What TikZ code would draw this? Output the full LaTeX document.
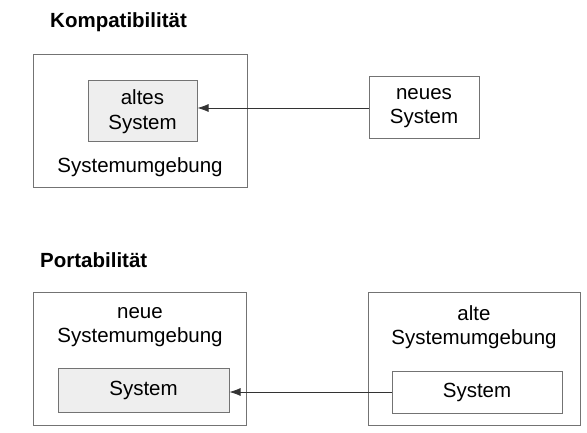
\documentclass[tikz,border=0pt]{standalone}
\usepackage{fontspec}
\setmainfont{Liberation Sans}
\usetikzlibrary{arrows.meta,positioning}
\definecolor{linegray}{gray}{0.45}
\definecolor{boxgray}{gray}{0.935}

\tikzset{
    box/.style={draw=linegray, line width=1pt, inner sep=0pt},
    sysbox/.style={box, fill=boxgray},
    label/.style={font=\fontsize{20.5}{24.5}\selectfont, align=center, inner sep=0pt},
    head/.style={font=\fontsize{20.5}{24.5}\selectfont\bfseries, anchor=west, inner sep=0pt},
    link/.style={draw=black!80, line width=0.8pt, -{Latex[length=11pt,width=8pt]}}
}

\begin{document}
\begin{tikzpicture}[x=1pt, y=-1pt]
        \useasboundingbox (0,0) rectangle (587,433);

        % Kompatibilitaet
        \node[head] (khead) at (50, 22) {Kompatibilität};
        \node[box, minimum width=214pt, minimum height=133pt] (kenv) at (140, 121.5) {};
        \node[sysbox, minimum width=109pt, minimum height=61pt] (kalt) at (142.5, 111.5) {};
        \node[label] (kalttext) at (kalt.center) {altes\\System};
        \node[label] (kenvtext) at (140, 167) {Systemumgebung};
        \node[box, fill=white, minimum width=110pt, minimum height=62pt] (kneu) at (424, 108) {};
        \node[label] (kneutext) at (kneu.center) {neues\\System};
        \draw[link] (kneu.west) -- (kneu.west -| kalt.east);

        % Portabilitaet
        \node[head] (phead) at (40, 260) {Portabilität};
        \node[box, minimum width=213pt, minimum height=133pt] (pneu) at (139.5, 358.5) {};
        \node[label] (pneutext) at (140, 327) {neue\\Systemumgebung};
        \node[sysbox, minimum width=171pt, minimum height=44pt] (psysl) at (143.5, 390) {};
        \node[label] (psysltext) at (psysl.center) {System};
        \node[box, minimum width=212pt, minimum height=133pt] (palt) at (474, 358.5) {};
        \node[label] (palttext) at (474, 327) {alte\\Systemumgebung};
        \node[box, fill=white, minimum width=170pt, minimum height=42pt] (psysr) at (477, 392) {};
        \node[label] (psysrtext) at (psysr.center) {System};
        \draw[link] (psysr.west) -- (psysr.west -| psysl.east);

    \end{tikzpicture}
\end{document}
